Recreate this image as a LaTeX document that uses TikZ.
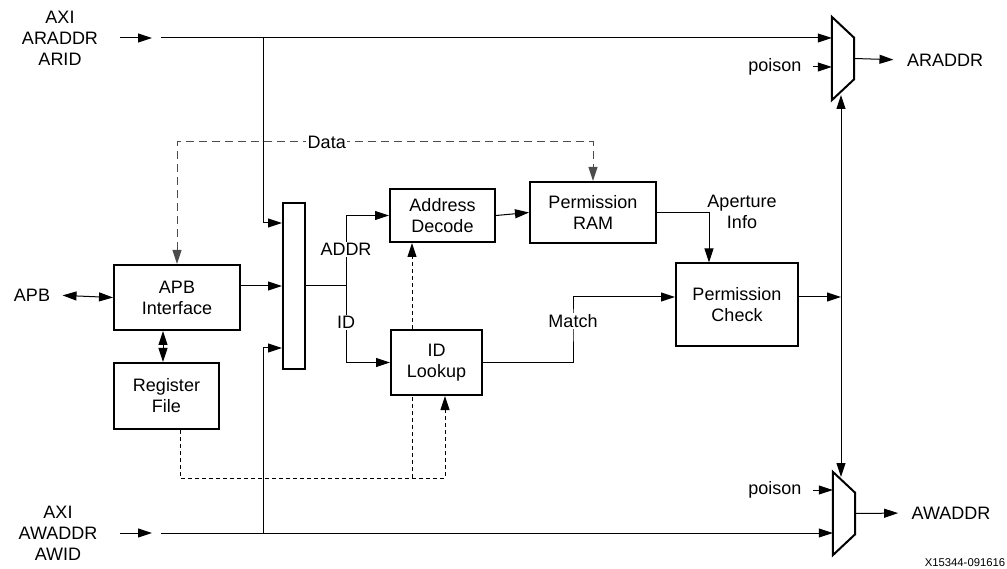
\documentclass[tikz,border=0pt]{standalone}
\usepackage{fontspec}
\setmainfont{Liberation Sans}
\usetikzlibrary{positioning, calc}
\usetikzlibrary{arrows.meta}

\tikzset{
  blk/.style={draw, line width=2pt, fill=white, align=center, inner sep=0pt},
  lbl/.style={fill=white, text=black, inner sep=1.5pt},
  wire/.style={line width=1pt},
  datadash/.style={line width=1pt, black!70, dash pattern=on 8pt off 5pt},
  ctrldash/.style={line width=1pt, dash pattern=on 4pt off 3pt},
  muxbox/.style={minimum width=22pt, minimum height=83pt, inner sep=0pt},
}

\begin{document}
\begin{tikzpicture}[x=1pt,y=-1pt,>={Triangle[length=14pt,width=9pt]},
  font=\fontsize{18}{21}\selectfont]

\useasboundingbox (0,0) rectangle (1007,569);

% offset delle frecce su Permission Check
\def\chkoff{8pt}

% --- Blocchi
\node[blk, minimum width=126pt, minimum height=65pt] (apb) at (177,297.5) {APB\\Interface};
\node[blk, minimum width=105pt, minimum height=66pt] (reg) at (166.5,396) {Register\\File};
\node[blk, minimum width=22pt, minimum height=166pt] (bus) at (294,286) {};
\node[blk, minimum width=105pt, minimum height=53pt] (dec) at (442.5,215.5) {Address\\Decode};
\node[blk, minimum width=91pt, minimum height=65pt] (lkp) at (436.5,362.5) {ID\\Lookup};
\node[blk, minimum width=126pt, minimum height=61pt] (ram) at (593,212.5) {Permission\\RAM};
\node[blk, minimum width=122pt, minimum height=83pt] (chk) at (737,305) {Permission\\Check};

% --- Mux
\node[muxbox] (muxr) at (843,58.5) {};
\node[muxbox] (muxw) at (844,513.5) {};
\draw[line width=2pt] (muxr.north west) -- ([yshift=-21pt]muxr.north east)
  -- ([yshift=21pt]muxr.south east) -- (muxr.south west) -- cycle;
\draw[line width=2pt] (muxw.north west) -- ([yshift=-21pt]muxw.north east)
  -- ([yshift=21pt]muxw.south east) -- (muxw.south west) -- cycle;

% --- Etichette esterne
\node[align=center] (arin) at (60,38) {AXI\\ARADDR\\ARID};
\node[align=center] (awin) at (58,533) {AXI\\AWADDR\\AWID};
\node (apbin) at (32,295) {APB};
\node (araddr) at (945,60) {ARADDR};
\node (awaddr) at (951,513) {AWADDR};
\node[anchor=east] (pr) at (805,67) {poison};
\node[anchor=east] (pw) at (805,490) {poison};
\node[align=center] (apinfo) at (742,212) {Aperture\\Info};
\node[font=\fontsize{11.3}{13}\selectfont] (fig) at (965,563) {X15344-091616};

% --- Ingressi AXI
\coordinate (ar0) at (120,38);
\coordinate (ar1) at (161,38);
\coordinate (tapr) at (263,38);
\coordinate (aw0) at (120,533);
\coordinate (aw1) at (161,533);
\coordinate (tapw) at (263,533);
\draw[wire,->] (ar0) -- ++(32,0);
\draw[wire,->] (aw0) -- ++(32,0);
\draw[wire,->] (ar1) -- (muxr.west |- ar1);
\draw[wire,->] (aw1) -- (muxw.west |- aw1);
\draw[wire,->] (tapr) |- ([yshift=63pt]bus.west);
\draw[wire,->] (tapw) |- ([yshift=-62pt]bus.west);

% --- APB
\draw[wire,<->, shorten <=9pt] (apbin.east) -- (apb.west);
\draw[wire,<->] ([xshift=-14pt]apb.south) -- ([xshift=-3.5pt]reg.north);
\draw[wire,->] (apb.east |- bus.west) -- (bus.west);

% --- ADDR / ID
\coordinate (split) at (346,286);
\draw[wire] (bus.east) -- (split);
\draw[wire,->] (split) |- node[lbl, pos=0.26] {ADDR} (dec.west);
\draw[wire,->] (split) |- node[lbl, pos=0.24] {ID} (lkp.west);
\draw[wire,->] (dec.east) -- (ram.west);

% --- Permission Check
\draw[wire,->] (ram.east) -| ([xshift=-28pt]chk.north);
\draw[wire,->] (lkp.east) -| (573,321) node[lbl] {Match} |- ([yshift=\chkoff]chk.west);
\coordinate (vtop) at (841,95);
\coordinate (vbot) at (841,477);
\coordinate (chkout) at ([yshift=\chkoff]chk.east);
\draw[wire,<->] (vtop) -- (vbot);
\draw[wire,->] (chkout) -- (chkout -| vtop);

% --- Uscite mux
\draw[wire,->, shorten >=10pt] (muxr.east) -- (araddr.west);
\draw[wire,->, shorten >=10pt] (muxw.east) -- (awaddr.west);
\draw[wire,->] ([xshift=8pt]pr.east) -- (muxr.west |- pr.east);
\draw[wire,->] ([xshift=8pt]pw.east) -- (muxw.west |- pw.east);

% --- Tratteggi: Data e controllo
\coordinate (dataL) at (177,142);
\draw[datadash,<->] (apb.north) -- (dataL) -| node[lbl, pos=0.18] {Data} (ram.north);
\coordinate (ctlR) at (445,478);
\coordinate (ctl) at (412,478);
\draw[ctrldash,->] ([xshift=13.5pt]reg.south) |- (ctlR) -- ([xshift=8.5pt]lkp.south);
\draw[ctrldash] (ctl) -- (ctl |- lkp.south);
\draw[ctrldash,->] (ctl |- lkp.north) -- (ctl |- dec.south);

\end{tikzpicture}
\end{document}
